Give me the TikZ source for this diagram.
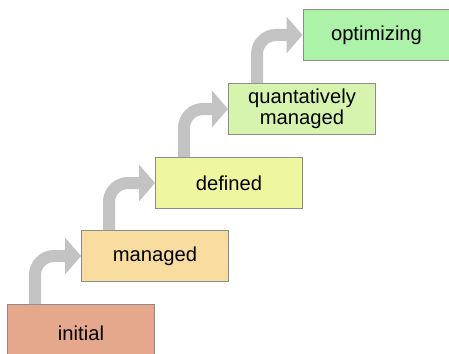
\documentclass[tikz,border=0pt]{standalone}
\usepackage{fontspec}
\setmainfont{Liberation Sans}
\usetikzlibrary{arrows.meta,calc}
\definecolor{cInit}{HTML}{E5A88C}
\definecolor{cMan}{HTML}{F9DDA0}
\definecolor{cDef}{HTML}{EFF6A0}
\definecolor{cQm}{HTML}{D6F4AE}
\definecolor{cOpt}{HTML}{ACF2A8}
\definecolor{cBorder}{HTML}{8C8C8C}
\definecolor{cArrow}{HTML}{C3C3C3}
\tikzset{
  level/.style={draw=cBorder, line width=1pt, minimum width=147pt, minimum height=51pt,
    inner sep=0pt, anchor=north west, align=center,
    font=\fontsize{20.2}{21.5}\selectfont},
  stair/.style={draw=cArrow, line width=12pt, rounded corners=19pt,
    -{Triangle[length=16pt,width=36pt]}}
}
\begin{document}
\begin{tikzpicture}[x=1pt,y=1pt]
\useasboundingbox (0,0) rectangle (449,-353);
\node[level, fill=cInit, minimum height=57pt] (init) at (7,-304) {initial};
\node[level, fill=cMan] (man) at (81,-230) {managed};
\node[level, fill=cDef] (def) at (155,-157) {defined};
\node[level, fill=cQm] (qm) at (228,-83) {quantatively\\managed};
\node[level, fill=cOpt] (opt) at (302.5,-9) {optimizing};
\draw[stair] ($(init.north west)+(28,0)$) |- (man.west);
\draw[stair] ($(man.north west)+(28,0)$) |- (def.west);
\draw[stair] ($(def.north west)+(29,0)$) |- (qm.west);
\draw[stair] ($(qm.north west)+(29,0)$) |- (opt.west);
\end{tikzpicture}
\end{document}
